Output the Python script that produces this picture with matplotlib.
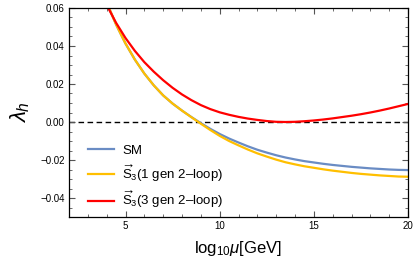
import matplotlib
matplotlib.use("Agg")
import matplotlib.pyplot as plt
from matplotlib.ticker import MultipleLocator

plt.rcParams['font.family'] = ['Liberation Sans', 'DejaVu Sans']
plt.rcParams['mathtext.fontset'] = 'custom'
plt.rcParams['mathtext.rm'] = 'Liberation Sans'
plt.rcParams['mathtext.it'] = 'Liberation Sans:italic'

# log10(mu / GeV), half-unit steps
mu = [3.5, 4, 4.5, 5, 5.5, 6, 6.5, 7, 7.5, 8, 8.5, 9, 9.5, 10,
      10.5, 11, 11.5, 12, 12.5, 13, 13.5, 14, 14.5, 15, 15.5, 16,
      16.5, 17, 17.5, 18, 18.5, 19, 19.5, 20]

lam_sm = [0.0765, 0.0629, 0.0513, 0.0413, 0.0328, 0.0255, 0.0193, 0.0140,
          0.0097, 0.0060, 0.0026, -0.0006, -0.0036, -0.0063,
          -0.0087, -0.0108, -0.0128, -0.0146, -0.0161, -0.0175, -0.0187,
          -0.0197, -0.0206, -0.0213, -0.0220, -0.0226, -0.0231, -0.0236,
          -0.0240, -0.0244, -0.0247, -0.0250, -0.0252, -0.0253]

lam_1gen = [0.0765, 0.0629, 0.0513, 0.0413, 0.0328, 0.0255, 0.0193, 0.0140,
            0.0097, 0.0060, 0.0025, -0.0009, -0.0042, -0.0073,
            -0.0100, -0.0123, -0.0145, -0.0165, -0.0182, -0.0198, -0.0212,
            -0.0223, -0.0233, -0.0241, -0.0249, -0.0256, -0.0262, -0.0268,
            -0.0273, -0.0277, -0.0281, -0.0284, -0.0287, -0.0288]

lam_3gen = [0.0726, 0.0616, 0.0522, 0.0442, 0.0374, 0.0315, 0.0265, 0.0220,
            0.0180, 0.0145, 0.0115, 0.0089, 0.0068, 0.0051,
            0.0038, 0.0027, 0.0018, 0.0011, 0.0005, 0.0001, 0.0000,
            0.0001, 0.0004, 0.0008, 0.0013, 0.0019, 0.0026, 0.0033,
            0.0041, 0.0050, 0.0060, 0.0071, 0.0083, 0.0095]

labels = ['SM',
          r'$\overrightarrow{\mathrm{S}}_3$(1 gen 2–loop)',
          r'$\overrightarrow{\mathrm{S}}_3$(3 gen 2–loop)']
colors = ['#6a8cc4', '#ffbf00', '#ff0000']

fig = plt.figure(figsize=(4.15, 2.67), dpi=100)
ax = fig.add_axes([69/415, 1 - 217/267, (408 - 69)/415, (217 - 8)/267])

ax.axhline(0, color='black', lw=1.0, ls=(0, (4, 2.5)), zorder=1)
for ys, c, lab in zip([lam_sm, lam_1gen, lam_3gen], colors, labels):
    ax.plot(mu, ys, color=c, lw=1.6, label=lab, zorder=2)

ax.set_xlim(2, 20)
ax.set_ylim(-0.05, 0.06)
ax.xaxis.set_major_locator(MultipleLocator(5))
ax.xaxis.set_minor_locator(MultipleLocator(1))
ax.yaxis.set_minor_locator(MultipleLocator(0.005))
ax.set_yticks([0.06, 0.04, 0.02, 0.0, -0.02, -0.04])
ax.set_yticklabels(['0.06', '0.04', '0.02', '0.00', '−0.02', '−0.04'])
ax.tick_params(which='both', direction='in', top=True, right=True,
               labelsize=7, color='#555555', pad=3)
ax.tick_params(which='major', length=4, width=0.8)
ax.tick_params(which='minor', length=2.2, width=0.6)
for s in ax.spines.values():
    s.set_linewidth(0.9)

ax.set_xlabel(r'log$_{10}\mathit{\mu}$[GeV]', fontsize=12, labelpad=6)
ax.set_ylabel(r'$\mathit{\lambda_h}$', fontsize=16, labelpad=6)

ax.legend(loc='lower left', bbox_to_anchor=(0.02, -0.025), frameon=False,
          fontsize=9.5, handlelength=2.0, labelspacing=0.45,
          handletextpad=0.6)

fig.savefig('out.png', dpi=100)
